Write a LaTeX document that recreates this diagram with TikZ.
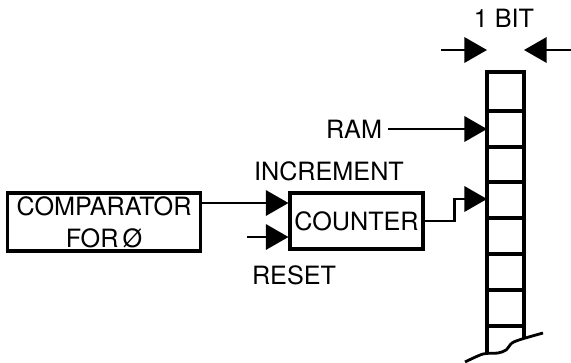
\documentclass[tikz,border=0pt]{standalone}
\usepackage{fontspec}
\setmainfont{TeX Gyre Heros}
\usetikzlibrary{arrows.meta,positioning,calc}

\tikzset{
  conn/.style={line width=2.2pt,-{Triangle[length=0.68cm,width=0.76cm]}},
  blockbox/.style={draw,line width=2.6pt,inner sep=0pt,align=center},
  lbl/.style={inner sep=0pt,font=\fontsize{21.5}{27}\selectfont}
}

\begin{document}
\begin{tikzpicture}[x=0.03cm,y=-0.03cm]
  \useasboundingbox (0,0) rectangle (571,362);
  % Blocks
  \node[blockbox,lbl,minimum width=5.79cm,minimum height=1.74cm] (comp) at (104,222)
    {COMPARATOR\\FOR\,Ø};
  \node[blockbox,lbl,minimum width=3.99cm,minimum height=1.68cm] (cnt) at (356.5,221)
    {COUNTER};
  % Labels
  \node[lbl] (inc) at (329,171) {INCREMENT};
  \node[lbl] (reset) at (294,275) {RESET};
  \node[lbl] (ram) at (354,129) {RAM};
  \node[lbl] (bit) at (504,18) {1 BIT};
  % Memory column, one bit wide
  \draw[line width=2.6pt] (487,353) -- (487,72) -- (524,72) -- (524,338);
  \foreach \y in {111,147,182,218,254,290,326}
    \draw[line width=2.6pt] (487,\y) -- (524,\y);
  \draw[line width=2.4pt] plot[smooth] coordinates
    {(465,362) (483,354) (498,353) (506,350) (512,343) (522,339) (543,333)};
  % Arrow targets
  \coordinate (incin) at ($(cnt.west)+(0,-18)$);
  \coordinate (resin) at ($(cnt.west)+(0,16)$);
  \coordinate (resstart) at (247,237);
  \coordinate (ramcell) at (487,129);
  \coordinate (cntcell) at (487,199);
  \coordinate (bitL) at (487,50);
  \coordinate (bitR) at (524,50);
  \coordinate (bitLstart) at (441,50);
  \coordinate (bitRstart) at (571,50);
  % Connectors
  \draw[conn] (comp.east |- incin) -- (incin);
  \draw[conn] (resstart) -- (resin);
  \draw[conn] ($(ram.east)+(6,0)$) -- (ramcell);
  \draw[conn] (cnt.east) -- ++(30,0) |- (cntcell);
  \draw[conn] (bitLstart) -- (bitL);
  \draw[conn] (bitRstart) -- (bitR);
\end{tikzpicture}
\end{document}
